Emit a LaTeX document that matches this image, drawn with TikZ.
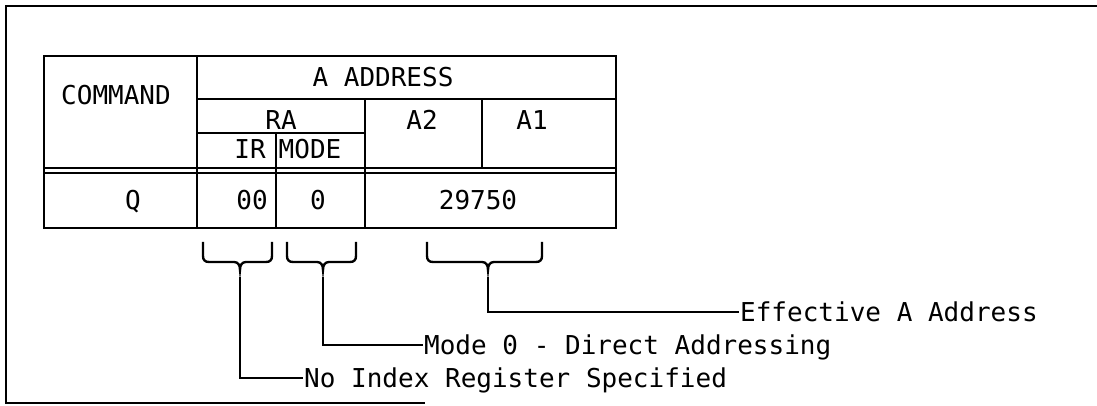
\documentclass[tikz,border=0pt]{standalone}
\usepackage{fontspec}
\setmonofont{DejaVu Sans Mono}
\begin{document}
\begin{tikzpicture}[x=0.015cm,y=-0.015cm,line width=1pt,
        font=\ttfamily\fontsize{11.1}{13}\selectfont,
        txt/.style={inner sep=0pt,text height=8.1pt,text depth=0pt},
        lbl/.style={txt,anchor=west}]
    \useasboundingbox (0,0) rectangle (1097,406);
    \draw (1097,6) -- (6,6) -- (6,403) -- (425,403);

    % instruction format table
    \draw (44,56) rectangle (616,228);
    \draw (197,56) -- (197,228);
    \draw (197,99) -- (616,99);
    \draw (197,133) -- (365,133);
    \draw (365,99) -- (365,228);
    \draw (482,99) -- (482,168);
    \draw (276,133) -- (276,228);
    \draw (44,168) -- (616,168);
    \draw (44,173) -- (616,173);

    \node (command) [txt] at (116,95) {COMMAND};
    \node (aaddr) [txt] at (383,77) {A ADDRESS};
    \node (ra) [txt] at (281,120) {RA};
    \node (atwo) [txt] at (422,120) {A2};
    \node (aone) [txt] at (532,120) {A1};
    \node (ir) [txt] at (250,149) {IR};
    \node (mode) [txt] at (310,149) {MODE};
    \node (cmdval) [txt] at (133,200) {Q};
    \node (irval) [txt] at (252,200) {00};
    \node (modeval) [txt] at (318,200) {0};
    \node (addrval) [txt] at (478,200) {29750};

    % braces under the fields
    \foreach \l/\m/\r/\n in {203/240/272/ir, 287/323/356/md, 427/488/542/ad} {
        \draw (\l,242) -- (\l,256) .. controls (\l,260) and ({\l+2},262) .. ({\l+6},262)
            -- ({\m-6},262) .. controls ({\m-2},262) and (\m,265) .. (\m,270)
            .. controls (\m,265) and ({\m+2},262) .. ({\m+6},262)
            -- ({\r-6},262) .. controls ({\r-2},262) and (\r,260) .. (\r,256) -- (\r,242);
        \coordinate (tip\n) at (\m,277);
    }

    \node (effaddr) [lbl] at (739,312) {Effective A Address};
    \node (direct) [lbl] at (423,345) {Mode 0 - Direct Addressing};
    \node (noindex) [lbl] at (303,378) {No Index Register Specified};

    \draw (tipad) |- (effaddr.west);
    \draw (tipmd) |- (direct.west);
    \draw (tipir) |- (noindex.west);
\end{tikzpicture}
\end{document}
